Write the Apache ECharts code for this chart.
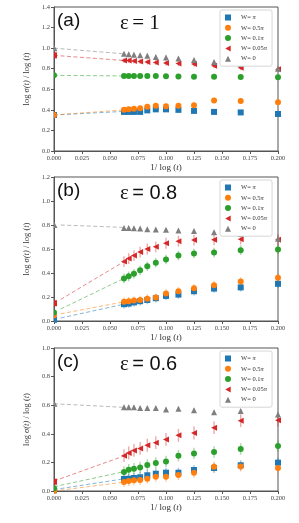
<!DOCTYPE html>
<html><head><meta charset="utf-8">
<script src="https://cdn.jsdelivr.net/npm/echarts@6/dist/echarts.min.js"></script>
<style>html,body{margin:0;padding:0;background:#fff;}#c{width:299px;height:523px;}</style>
</head><body><div id="c"></div>
<script>
// x positions: 1/log(t)
const xVals = [0.0625, 0.0667, 0.0714, 0.0769, 0.0833, 0.0909, 0.1, 0.1111, 0.125, 0.1429, 0.1667, 0.2];
const seriesNames = ['W= π', 'W= 0.5π', 'W= 0.1π', 'W= 0.05π', 'W= 0'];
const xTicks = [0, 0.2, 0.025];

// Panel (a) eps = 1
const a_blue   = [0.38, 0.38, 0.38, 0.38, 0.395, 0.405, 0.405, 0.40, 0.39, 0.38, 0.375, 0.36];
const a_orange = [0.40, 0.405, 0.41, 0.415, 0.43, 0.44, 0.435, 0.44, 0.445, 0.49, 0.485, 0.475];
const a_green  = [0.73, 0.73, 0.73, 0.73, 0.728, 0.728, 0.727, 0.725, 0.723, 0.722, 0.72, 0.718];
const a_red    = [0.88, 0.88, 0.875, 0.87, 0.865, 0.86, 0.855, 0.85, 0.845, 0.83, 0.81, 0.795];
const a_gray   = [0.945, 0.94, 0.935, 0.93, 0.925, 0.915, 0.91, 0.90, 0.885, 0.865, 0.845, 0.80];
const a_extrap = [0.35, 0.35, 0.737, 0.93, 1.0];
const a_fitX   = [0, 0.0625];
const a_fitStart = [0.35, 0.35, 0.735, 0.93, 1.0];
const a_fitEnd   = [0.385, 0.40, 0.73, 0.88, 0.945];
const a_err    = [0.02, 0.025, 0.02, 0.025, 0.02];
const a_yMax = 1.4;

// Panel (b) eps = 0.8
const b_blue   = [0.14, 0.145, 0.155, 0.165, 0.175, 0.19, 0.209, 0.22, 0.248, 0.27, 0.28, 0.31];
const b_orange = [0.16, 0.165, 0.17, 0.175, 0.185, 0.195, 0.23, 0.248, 0.273, 0.298, 0.329, 0.36];
const b_green  = [0.355, 0.372, 0.394, 0.422, 0.456, 0.485, 0.513, 0.546, 0.562, 0.57, 0.59, 0.596];
const b_red    = [0.495, 0.52, 0.545, 0.574, 0.60, 0.618, 0.648, 0.665, 0.674, 0.677, 0.682, 0.677];
const b_gray   = [0.775, 0.775, 0.772, 0.77, 0.765, 0.763, 0.76, 0.755, 0.75, 0.74, 0.725, 0.685];
const b_extrap = [0.01, 0.047, 0.07, 0.148, 0.80];
const b_fitX   = [0.006, 0.0625];
const b_fitStart = [0.025, 0.06, 0.10, 0.18, 0.80];
const b_fitEnd   = [0.14, 0.16, 0.355, 0.495, 0.78];
const b_err    = [0.035, 0.035, 0.04, 0.045, 0.015];
const b_yMax = 1.2;

// Panel (c) eps = 0.6
const c_blue   = [0.084, 0.086, 0.091, 0.096, 0.11, 0.121, 0.128, 0.128, 0.147, 0.161, 0.18, 0.198];
const c_orange = [0.063, 0.07, 0.075, 0.077, 0.086, 0.10, 0.10, 0.112, 0.128, 0.17, 0.172, 0.16];
const c_green  = [0.133, 0.149, 0.156, 0.165, 0.182, 0.196, 0.207, 0.247, 0.263, 0.273, 0.294, 0.315];
const c_red    = [0.247, 0.266, 0.284, 0.298, 0.32, 0.338, 0.361, 0.389, 0.406, 0.443, 0.492, 0.494];
const c_gray   = [0.585, 0.585, 0.585, 0.58, 0.58, 0.58, 0.57, 0.575, 0.565, 0.55, 0.56, 0.535];
const c_extrap = [0.005, 0.0, 0.02, 0.065, 0.61];
const c_fitX   = [0, 0.0625];
const c_fitStart = [0.01, 0.0, 0.03, 0.07, 0.61];
const c_fitEnd   = [0.085, 0.062, 0.135, 0.245, 0.585];
const c_err    = [0.035, 0.035, 0.04, 0.045, 0.015];
const c_yMax = 1.0;

const panelLabels = ['(a)', '(b)', '(c)'];
const epsLabels = ['1', '0.8', '0.6'];

const colors = ['#1f77b4', '#ff7f0e', '#2ca02c', '#d62728', '#7f7f7f'];
const symbols = ['rect', 'circle', 'circle', 'path://M0,5 L9,0 L9,10 Z', 'triangle'];
const symSizes = [6, 6, 6, [6, 6], 6];

const panels = [
  {vals: [a_blue, a_orange, a_green, a_red, a_gray], extrap: a_extrap, fitX: a_fitX, fs: a_fitStart, fe: a_fitEnd, err: a_err, yMax: a_yMax},
  {vals: [b_blue, b_orange, b_green, b_red, b_gray], extrap: b_extrap, fitX: b_fitX, fs: b_fitStart, fe: b_fitEnd, err: b_err, yMax: b_yMax},
  {vals: [c_blue, c_orange, c_green, c_red, c_gray], extrap: c_extrap, fitX: c_fitX, fs: c_fitStart, fe: c_fitEnd, err: c_err, yMax: c_yMax}
];

const grids = [
  {left: 54, right: 21, top: 7, height: 144},
  {left: 54, right: 21, top: 177, height: 144},
  {left: 54, right: 21, top: 348, height: 143}
];

const serif = 'Liberation Serif';
const axisColor = '#555';
const xAxes = [], yAxes = [], series = [], legends = [], graphics = [];

panels.forEach((p, gi) => {
  xAxes.push({
    type: 'value', gridIndex: gi, min: xTicks[0], max: xTicks[1], interval: xTicks[2],
    name: '1/ log ({i|t})', nameLocation: 'middle', nameGap: 12,
    nameTextStyle: {fontFamily: serif, fontSize: 9, color: '#333', rich: {i: {fontFamily: serif, fontStyle: 'italic', fontSize: 9, color: '#333'}}},
    axisLine: {show: true, onZero: false, lineStyle: {color: axisColor, width: 1}},
    axisTick: {show: true, length: 3, lineStyle: {color: axisColor}},
    axisLabel: {fontFamily: serif, fontSize: 6.5, color: '#444', margin: 4, formatter: v => v.toFixed(3)},
    splitLine: {show: false}
  });
  yAxes.push({
    type: 'value', gridIndex: gi, min: 0, max: p.yMax, interval: 0.2,
    name: 'log {i|σ(t)} / log ({i|t})', nameLocation: 'middle', nameGap: 19,
    nameTextStyle: {fontFamily: serif, fontSize: 8.5, color: '#333', rich: {i: {fontFamily: serif, fontStyle: 'italic', fontSize: 8.5, color: '#333'}}},
    axisLine: {show: true, onZero: false, lineStyle: {color: axisColor, width: 1}},
    axisTick: {show: true, length: 3, lineStyle: {color: axisColor}},
    axisLabel: {fontFamily: serif, fontSize: 6.5, color: '#444', margin: 4, formatter: v => v.toFixed(1)},
    splitLine: {show: false}
  });

  // fit lines
  p.fs.forEach((s, k) => {
    series.push({
      type: 'line', xAxisIndex: gi, yAxisIndex: gi, symbol: 'none', silent: true, z: 1,
      data: [[p.fitX[0], s], [p.fitX[1], p.fe[k]]],
      lineStyle: {color: colors[k], width: 1, type: [4, 2.5], opacity: 0.55}
    });
  });

  // error bars
  p.vals.forEach((arr, k) => {
    series.push({
      type: 'custom', xAxisIndex: gi, yAxisIndex: gi, silent: true, z: 2,
      data: arr.map((v, i) => [xVals[i], v, p.err[k]]),
      renderItem: (params, api) => {
        const x = api.value(0), y = api.value(1), e = api.value(2);
        const p1 = api.coord([x, y - e]), p2 = api.coord([x, y + e]);
        return {type: 'line', shape: {x1: p1[0], y1: p1[1], x2: p2[0], y2: p2[1]},
          style: {stroke: colors[k], lineWidth: 1.4, opacity: 0.4}};
      }
    });
  });

  // scatter points
  p.vals.forEach((arr, k) => {
    series.push({
      type: 'scatter', name: seriesNames[k], xAxisIndex: gi, yAxisIndex: gi, z: 3,
      symbol: symbols[k], symbolSize: symSizes[k],
      itemStyle: {color: colors[k], opacity: 1},
      data: arr.map((v, i) => [xVals[i], v])
    });
  });

  // extrapolated points at x = 0 (half-clipped by the axis)
  series.push({
    type: 'custom', xAxisIndex: gi, yAxisIndex: gi, silent: true, z: 3,
    data: p.extrap.map((v, k) => [0, v, k]),
    renderItem: (params, api) => {
      const c = api.coord([api.value(0), api.value(1)]);
      const k = api.value(2);
      const col = colors[k];
      if (k === 4) {
        return {type: 'polygon', shape: {points: [[c[0], c[1] - 3.5], [c[0] + 3.5, c[1] + 3], [c[0], c[1] + 3]]}, style: {fill: col}};
      }
      if (k === 1 || k === 2) {
        return {type: 'sector', shape: {cx: c[0], cy: c[1], r0: 0, r: 3, startAngle: -Math.PI / 2, endAngle: Math.PI / 2}, style: {fill: col}};
      }
      return {type: 'rect', shape: {x: c[0], y: c[1] - 3, width: 3, height: 6}, style: {fill: col}};
    }
  });

  legends.push({
    data: seriesNames, orient: 'vertical', left: 220, top: grids[gi].top + 3,
    itemWidth: 6, itemHeight: 6, itemGap: 3.3, padding: [4, 5, 4, 5],
    backgroundColor: '#fff', borderColor: '#ccc', borderWidth: 0.8, borderRadius: 2,
    selectedMode: false,
    textStyle: {fontFamily: serif, fontSize: 6.5, color: '#333', padding: [0, 0, 0, 5]},
    formatter: name => name.replace('π', '{i|π}'),
  });
  legends[gi].textStyle.rich = {i: {fontFamily: serif, fontStyle: 'italic', fontSize: 6.5, color: '#333'}};

  const top = grids[gi].top;
  graphics.push({
    type: 'text', left: 57, top: top + 4, z: 10,
    style: {text: panelLabels[gi], font: '19px "Liberation Sans", Arial, sans-serif', fill: '#111'}
  });
  graphics.push({
    type: 'text', left: 120, top: top + 6, z: 10,
    style: {
      text: gi === 0 ? '{e|ε} {s|= 1}' : '{e|ε} {n|= ' + epsLabels[gi] + '}',
      rich: {
        e: {fontFamily: serif, fontSize: 21, fill: '#111', color: '#111'},
        s: {fontFamily: serif, fontSize: 21, fill: '#111', color: '#111'},
        n: {fontFamily: 'Liberation Sans', fontSize: 20, fill: '#111', color: '#111'}
      }
    }
  });
});

const chart = echarts.init(document.getElementById('c'), null, {renderer: 'canvas'});
chart.setOption({
  animation: false,
  grid: grids.map(g => Object.assign({show: true, borderColor: axisColor, borderWidth: 1, backgroundColor: 'transparent'}, g)),
  xAxis: xAxes,
  yAxis: yAxes,
  legend: legends,
  graphic: graphics,
  series: series
});
</script></body></html>
